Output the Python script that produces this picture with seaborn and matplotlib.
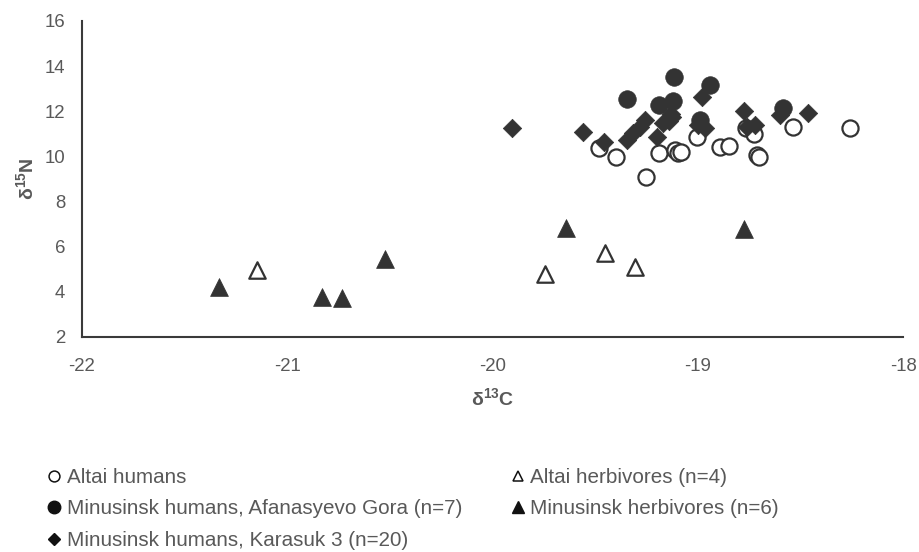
import pandas as pd
import seaborn as sns
import matplotlib.pyplot as plt
from matplotlib.lines import Line2D

# valeurs (d13C, d15N)
altai_h_c = [-19.48, -19.40, -19.25, -19.19, -19.11, -19.095, -19.08, -19.005,
             -18.89, -18.85, -18.765, -18.725, -18.713, -18.70, -18.537, -18.258]
altai_h_n = [10.39, 9.99, 9.08, 10.13, 10.30, 10.17, 10.21, 10.87,
             10.40, 10.48, 11.25, 11.00, 10.06, 9.96, 11.29, 11.25]

afan_c = [-19.346, -19.19, -19.114, -19.12, -18.99, -18.94, -18.583]
afan_n = [12.56, 12.28, 13.53, 12.44, 11.63, 13.17, 12.13]

kara_c = [-19.906, -19.56, -19.455, -19.346, -19.314, -19.28, -19.257, -19.2,
          -19.168, -19.127, -19.14, -19.13, -18.98, -18.965, -18.775, -18.721,
          -18.60, -18.461, -19.0, -18.76]
kara_n = [11.25, 11.10, 10.63, 10.73, 11.02, 11.32, 11.61, 10.87,
          11.47, 11.76, 11.55, 11.90, 12.65, 11.25, 12.03, 11.39,
          11.84, 11.91, 11.40, 11.30]

altai_herb_c = [-21.146, -19.745, -19.45, -19.306]
altai_herb_n = [4.97, 4.80, 5.71, 5.12]

minu_herb_c = [-21.33, -20.832, -20.735, -20.524, -19.64, -18.775]
minu_herb_n = [4.23, 3.79, 3.74, 5.46, 6.82, 6.79]

# nom, x, y, marqueur, ouvert ?, taille, taille dans la légende
groupes = [
    ("Altai humans", altai_h_c, altai_h_n, "o", True, 135, 7.8),
    ("Minusinsk humans, Afanasyevo Gora (n=7)", afan_c, afan_n, "o", False, 160, 9),
    ("Minusinsk humans, Karasuk 3 (n=20)", kara_c, kara_n, "D", False, 88, 6),
    ("Altai herbivores (n=4)", altai_herb_c, altai_herb_n, "^", True, 140, 7.2),
    ("Minusinsk herbivores (n=6)", minu_herb_c, minu_herb_n, "^", False, 165, 9),
]

fonce = "#333333"
gris = "#595959"

sns.set_theme(style="white")
plt.rcParams['font.family'] = ['Liberation Sans', 'DejaVu Sans']
plt.rcParams['axes.unicode_minus'] = False
plt.rcParams['mathtext.fontset'] = 'custom'
plt.rcParams['mathtext.rm'] = 'Liberation Sans'
plt.rcParams['mathtext.bf'] = 'Liberation Sans:bold'

fig = plt.figure(figsize=(9.19, 5.52), dpi=100)
ax = fig.add_axes([0.0892, 0.3895, 0.8934, 0.5725])

handles = []
for nom, xs, ys, mk, ouvert, taille, tleg in groupes:
    df = pd.DataFrame({"c": xs, "n": ys})
    if ouvert:
        sns.scatterplot(data=df, x="c", y="n", ax=ax, marker=mk, s=taille,
                        facecolor="white", edgecolor=fonce, linewidth=1.6, zorder=3)
        h = Line2D([], [], marker=mk, ls="", markersize=tleg, markerfacecolor="white",
                   markeredgecolor="#111111", markeredgewidth=1.1)
    else:
        sns.scatterplot(data=df, x="c", y="n", ax=ax, marker=mk, s=taille,
                        color=fonce, edgecolor=fonce, linewidth=0.5, zorder=3)
        h = Line2D([], [], marker=mk, ls="", markersize=tleg,
                   markerfacecolor="#111111", markeredgecolor="#111111")
    handles.append((h, nom))

ax.set_xlim(-22, -18)
ax.set_ylim(2, 16)
ax.set_xticks([-22, -21, -20, -19, -18])
ax.set_yticks([2, 4, 6, 8, 10, 12, 14, 16])
ax.tick_params(axis="x", length=0, labelsize=13.4, labelcolor=gris, pad=15)
ax.tick_params(axis="y", length=0, labelsize=13.4, labelcolor=gris, pad=12)
for s in ["top", "right"]:
    ax.spines[s].set_visible(False)
for s in ["left", "bottom"]:
    ax.spines[s].set_color("#3a3a3a")
    ax.spines[s].set_linewidth(1.5)

ax.set_xlabel(r"δ$^{\mathbf{13}}$C", fontsize=14, fontweight="bold", color=gris, labelpad=9)
ax.set_ylabel(r"δ$^{\mathbf{15}}$N", fontsize=14, fontweight="bold", color=gris, labelpad=5)

leg = fig.legend([h for h, _ in handles], [n for _, n in handles], ncol=2,
                 loc="upper left", bbox_to_anchor=(48 / 919, 1 - 468 / 552),
                 frameon=False, fontsize=14.9, handlelength=0.6, handletextpad=0.3,
                 columnspacing=2.4, labelspacing=0.6, borderpad=0, borderaxespad=0)
for t in leg.get_texts():
    t.set_color(gris)

fig.savefig("out.png", dpi=100)
